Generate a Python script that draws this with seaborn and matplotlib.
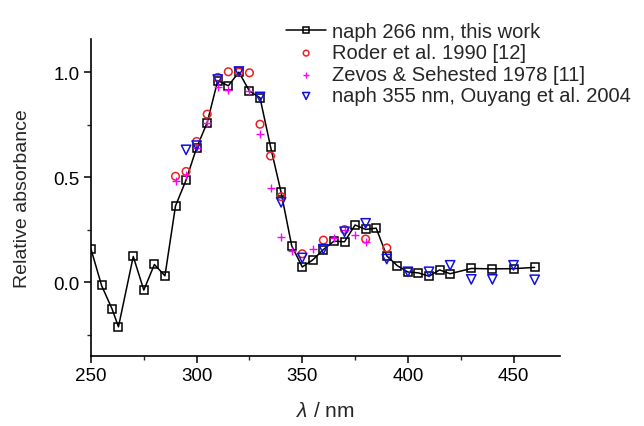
import numpy as np
import pandas as pd
import matplotlib
matplotlib.use("Agg")
import matplotlib.pyplot as plt
from matplotlib.ticker import MultipleLocator
import seaborn as sns

# ---- data ----
this_x = [250, 255, 260, 263, 270, 275, 280, 285, 290, 295, 300, 305, 310, 315, 320, 325, 330,
          335, 340, 345, 350, 355, 360, 365, 370, 375, 380, 385, 390, 395, 400, 405, 410, 415,
          420, 430, 440, 450, 460]
this_y = [0.157, -0.016, -0.129, -0.213, 0.122, -0.038, 0.084, 0.030, 0.363, 0.486, 0.640, 0.760,
          0.960, 0.935, 1.000, 0.910, 0.878, 0.644, 0.427, 0.173, 0.072, 0.106, 0.155, 0.195,
          0.192, 0.272, 0.251, 0.257, 0.125, 0.078, 0.048, 0.044, 0.028, 0.058, 0.040, 0.065,
          0.063, 0.064, 0.070]

roder_x = [290, 295, 300, 305, 310, 315, 320, 325, 330, 335, 340, 350, 360, 370, 380, 390]
roder_y = [0.504, 0.527, 0.670, 0.800, 0.975, 1.002, 1.000, 0.997, 0.752, 0.601, 0.407, 0.135,
           0.200, 0.250, 0.205, 0.163]

zevos_x = [290, 295, 300, 305, 310, 315, 325, 330, 335, 340, 345, 355, 365, 370, 375, 380]
zevos_y = [0.480, 0.510, 0.640, 0.760, 0.927, 0.914, 0.910, 0.705, 0.446, 0.215, 0.150, 0.157,
           0.210, 0.250, 0.225, 0.192]

ouyang_x = [295, 300, 310, 320, 330, 340, 350, 360, 370, 380, 390, 400, 410, 420, 430, 440, 450, 460]
ouyang_y = [0.630, 0.650, 0.965, 1.003, 0.882, 0.380, 0.115, 0.157, 0.240, 0.280, 0.110, 0.049,
            0.049, 0.080, 0.013, 0.013, 0.080, 0.011]

labels = ["naph 266 nm, this work", "Roder et al. 1990 [12]",
          "Zevos & Sehested 1978 [11]", "naph 355 nm, Ouyang et al. 2004"]

# ---- style ----
sns.set_theme(style="ticks")
plt.rcParams["font.family"] = ["Liberation Sans", "DejaVu Sans"]
plt.rcParams["mathtext.fontset"] = "custom"
plt.rcParams["mathtext.it"] = "Liberation Sans:italic"
plt.rcParams["mathtext.rm"] = "Liberation Sans"

fig = plt.figure(figsize=(6.44, 4.27), dpi=100)
ax = fig.add_axes([91 / 644, 1 - 357 / 427, 469 / 644, 317 / 427])

red = "#ee2020"
mag = "#ff00ff"
blue = "#1010e0"

sns.lineplot(x=this_x, y=this_y, ax=ax, color="black", linewidth=1.1, sort=False,
             marker="s", markersize=5.2, markerfacecolor="none", markeredgecolor="black",
             markeredgewidth=1.1, label=labels[0], zorder=2)
sns.scatterplot(x=roder_x, y=roder_y, ax=ax, marker="o", s=30, facecolor="none",
                edgecolor=red, linewidth=1.1, label=labels[1], zorder=3)
sns.scatterplot(x=zevos_x, y=zevos_y, ax=ax, marker="+", s=40, color=mag,
                linewidth=1.0, label=labels[2], zorder=4)
sns.scatterplot(x=ouyang_x, y=ouyang_y, ax=ax, marker="v", s=45, facecolor="none",
                edgecolor=blue, linewidth=1.1, label=labels[3], zorder=5)

ax.set_xlim(250, 472)
ax.set_ylim(-0.352, 1.158)
ax.xaxis.set_major_locator(MultipleLocator(50))
ax.xaxis.set_minor_locator(MultipleLocator(25))
ax.yaxis.set_major_locator(MultipleLocator(0.5))
ax.yaxis.set_minor_locator(MultipleLocator(0.25))
ax.yaxis.set_major_formatter(matplotlib.ticker.FormatStrFormatter("%.1f"))

for s in ["top", "right"]:
    ax.spines[s].set_visible(False)
for s in ["left", "bottom"]:
    ax.spines[s].set_linewidth(1.2)
    ax.spines[s].set_color("black")

ax.tick_params(which="major", direction="out", length=5, width=1.1, labelsize=13.5,
               pad=3, colors="black")
ax.tick_params(which="minor", direction="out", length=3, width=1.0)

ax.set_xlabel(r"$\lambda$ / nm", fontsize=15, labelpad=12)
ax.set_ylabel("Relative absorbance", fontsize=14, labelpad=16)

h, l = ax.get_legend_handles_labels()
leg = ax.legend(h, l, loc="upper left", bbox_to_anchor=(286 / 644, 1 - 23 / 427),
                bbox_transform=fig.transFigure, frameon=False, fontsize=14.5,
                borderpad=0, borderaxespad=0, handlelength=2.0, handletextpad=0.3,
                labelspacing=0.12, markerscale=0.75)

fig.savefig("out.png", dpi=100, facecolor="white")
